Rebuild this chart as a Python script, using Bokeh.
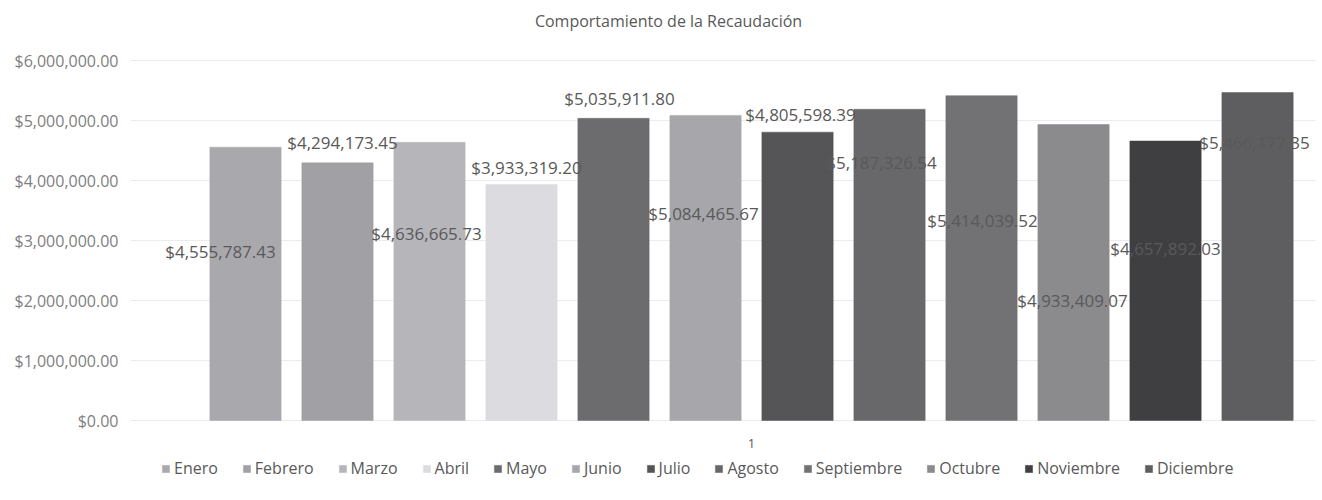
from bokeh.plotting import figure
from bokeh.models import (ColumnDataSource, NumeralTickFormatter, FixedTicker,
                          Legend, LegendItem, Range1d, Label)
from bokeh.core.properties import value, field
from bokeh.embed import file_html
from bokeh.resources import INLINE

# ---- data ----
title_text = "Comportamiento de la Recaudación"
months = ["Enero", "Febrero", "Marzo", "Abril", "Mayo", "Junio", "Julio",
          "Agosto", "Septiembre", "Octubre", "Noviembre", "Diciembre"]
amounts = [4555787.43, 4294173.45, 4636665.73, 3933319.20, 5035911.80,
           5084465.67, 4805598.39, 5187326.54, 5414039.52, 4933409.07,
           4657892.03, 5466177.35]
category_label = "1"
y_ticks = [0, 1000000, 2000000, 3000000, 4000000, 5000000, 6000000]

# ---- styling ----
colors = ["#a9a9ad", "#a1a1a5", "#b6b6ba", "#dcdce0", "#6c6c6e", "#a7a7ab",
          "#555558", "#68686a", "#727274", "#8b8b8d", "#3f3f42", "#5e5e60"]
# pixel offsets of the data labels (relative to bar centre / bar top, +down)
label_dx = [-25, 5, -3, 5, 6, -2, 3, -8, 1, -1, 0, -3]
label_dy = [104, -20, 91, -17, -20, 98, -18, 53, 125, 176, 107, 50]

FONT = "Open Sans"
HEAD_H = 60       # pixels above the value axis (title)
PLOT_H = 360      # pixels used by the value axis (0 .. 6M)
FOOT_H = 80       # pixels below the value axis for category label + legend
y_max = y_ticks[-1]
px_per_unit = PLOT_H / y_max
range_top = y_max + HEAD_H / px_per_unit
range_bottom = -FOOT_H / px_per_unit

xs = list(range(len(months)))
labels = ["${:,.2f}".format(v) for v in amounts]
src = ColumnDataSource(dict(x=xs, top=amounts, month=months, color=colors,
                            label=labels, dx=label_dx, dy=label_dy))

p = figure(frame_width=1185, frame_height=HEAD_H + PLOT_H + FOOT_H,
           output_backend="svg", toolbar_location=None, x_axis_location=None,
           x_range=Range1d(-1.25, 11.63), y_range=Range1d(range_bottom, range_top),
           min_border_left=130, min_border_right=7, min_border_top=0,
           min_border_bottom=0)
p.title.visible = False
p.outline_line_color = None
p.background_fill_color = "white"
p.border_fill_color = "white"

r = p.vbar(x="x", top="top", width=0.775, source=src, fill_color="color",
           line_color="color", line_width=0.5)

p.text(x="x", y="top", text="label", source=src, x_offset="dx", y_offset="dy",
       text_font=value(FONT), text_font_size="17px", text_color="#595959",
       text_align="center", text_baseline="middle")

# chart title (drawn inside the top band of the plot area)
title = Label(x=4.598, y=y_max, y_offset=40, text=title_text,
              text_align="center", text_baseline="middle", text_font=FONT,
              text_font_size="16px", text_color="#595959")
p.add_layout(title)

# y axis
p.yaxis.ticker = FixedTicker(ticks=y_ticks)
p.yaxis.formatter = NumeralTickFormatter(format="$0,0.00")
p.yaxis.axis_line_color = None
p.yaxis.major_tick_line_color = None
p.yaxis.minor_tick_line_color = None
p.yaxis.major_label_standoff = 6
p.yaxis.major_label_text_font = FONT
p.yaxis.major_label_text_font_size = "16px"
p.yaxis.major_label_text_color = "#808080"

p.xgrid.grid_line_color = None
p.ygrid.grid_line_color = "#ececec"
p.ygrid.ticker = FixedTicker(ticks=y_ticks)

# single category label under the bars
cat = Label(x=(xs[0] + xs[-1]) / 2, y=0, text=category_label, y_offset=-23,
            text_align="center", text_baseline="middle", text_font=FONT,
            text_font_size="13px", text_color="#595959")
p.add_layout(cat)

legend = Legend(items=[LegendItem(label=field("month"), renderers=[r])],
                orientation="horizontal", location=(31, 21),
                glyph_width=9, glyph_height=9, label_standoff=4, spacing=24,
                padding=2, margin=0, border_line_color=None,
                background_fill_alpha=0,
                label_text_font=FONT, label_text_font_size="16px",
                label_text_color="#595959")
p.add_layout(legend, "center")

open("out.html", "w").write(file_html(p, INLINE))
